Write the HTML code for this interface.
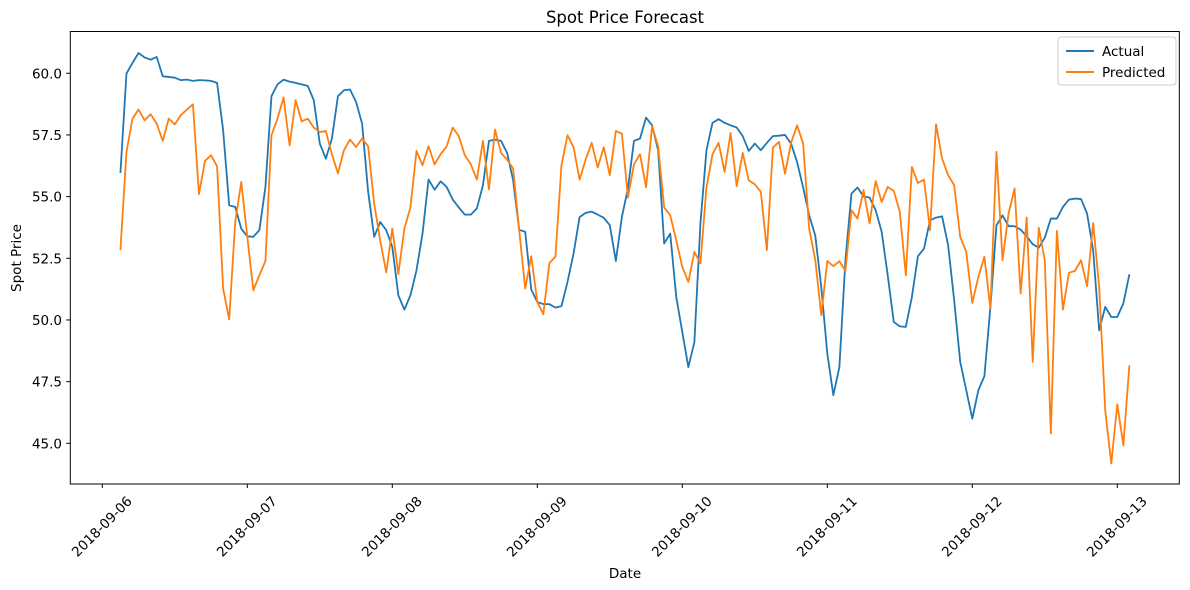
<!DOCTYPE html>
<html><head><meta charset="utf-8"><style>
body{margin:0;background:#fff;}
svg{display:block;font-family:"DejaVu Sans","Liberation Sans",sans-serif;}
</style></head><body>
<svg id="chart" width="1190" height="590" xmlns="http://www.w3.org/2000/svg">
<rect width="1190" height="590" fill="#fff"/>
<text x="625" y="23" font-size="16.5" text-anchor="middle" fill="#000">Spot Price Forecast</text>
<text x="625" y="578" font-size="13.5" text-anchor="middle" fill="#000">Date</text>
<text x="21" y="258" font-size="13.5" text-anchor="middle" fill="#000" transform="rotate(-90 21 258)">Spot Price</text>
<g id="ticks"></g>
<g id="series"></g>
<rect x="70.3" y="31.5" width="1109" height="452.5" fill="none" stroke="#000" stroke-width="1"/>
<g>
<rect x="1058" y="37" width="118" height="48" rx="3" fill="#fff" fill-opacity="0.8" stroke="#ccc"/>
<line x1="1066" y1="51" x2="1094" y2="51" stroke="#1f77b4" stroke-width="2"/>
<text x="1102" y="56" font-size="13.5">Actual</text>
<line x1="1066" y1="72" x2="1094" y2="72" stroke="#ff7f0e" stroke-width="2"/>
<text x="1102" y="77" font-size="13.5">Predicted</text>
</g>
</svg>
<script>
const startHour = 3;
const actual = [55.96,59.99,60.42,60.82,60.64,60.55,60.66,59.88,59.85,59.82,59.72,59.74,59.69,59.72,59.71,59.69,59.61,57.69,54.65,54.58,53.7,53.39,53.37,53.64,55.39,59.07,59.55,59.74,59.66,59.61,59.55,59.49,58.91,57.15,56.54,57.35,59.07,59.31,59.34,58.84,57.96,55.2,53.37,53.97,
53.64,52.96,51.0,50.42,51.0,52.01,53.5,55.69,55.28,55.62,55.39,54.88,54.56,54.27,54.27,54.52,55.46,57.26,57.31,57.26,56.77,55.66,53.66,53.57,51.23,50.73,50.64,50.64,50.5,50.56,51.54,52.69,54.17,54.34,54.39,54.27,54.14,53.84,52.39,54.17,55.33,57.26,57.35,58.2,57.89,56.88,53.1,
53.5,50.93,49.51,48.09,49.1,53.91,56.88,57.99,58.14,57.99,57.89,57.8,57.45,56.85,57.15,56.88,57.18,57.45,57.47,57.5,57.15,56.4,55.37,54.24,53.43,51.34,48.64,46.95,48.09,52.42,55.12,55.37,55.01,54.96,54.45,53.57,51.81,49.92,49.74,49.72,50.93,52.58,52.89,54.04,54.15,
54.2,53.03,50.8,48.3,47.15,46.0,47.15,47.72,50.53,53.84,54.24,53.8,53.8,53.66,53.39,53.07,52.93,53.34,54.11,54.11,54.58,54.88,54.92,54.9,54.31,52.83,49.58,50.53,50.12,50.12,50.67,51.85];
const predicted = [52.83,56.81,58.16,58.53,58.09,58.34,57.96,57.26,58.16,57.93,58.3,58.53,58.74,55.1,56.45,56.68,56.23,51.27,50.02,53.97,55.59,53.37,51.2,51.81,52.39,57.49,58.16,59.02,57.08,58.91,58.05,58.16,57.8,57.62,57.66,56.72,55.94,56.88,57.31,57.01,57.35,57.04,54.72,53.21,51.93,53.7,51.86,
53.7,54.56,56.85,56.27,57.04,56.31,56.72,57.04,57.8,57.45,56.68,56.31,55.69,57.26,55.29,57.72,56.77,56.5,56.14,53.64,51.27,52.58,50.73,50.23,52.31,52.56,56.27,57.49,57.0,55.69,56.5,57.18,56.18,57.0,55.87,57.66,57.55,54.96,56.31,56.72,55.37,57.85,57.04,54.56,
54.24,53.23,52.15,51.54,52.76,52.29,55.37,56.72,57.18,56.0,57.58,55.42,56.77,55.66,55.5,55.19,52.83,56.99,57.22,55.93,57.18,57.89,57.15,53.7,52.45,50.19,52.39,52.18,52.38,51.99,54.45,54.11,55.26,53.91,55.63,54.78,55.39,55.23,54.38,51.81,56.2,55.55,55.69,53.64,57.93,
56.54,55.87,55.46,53.37,52.76,50.69,51.74,52.56,50.46,56.81,52.42,54.31,55.33,51.07,54.15,48.3,53.74,52.42,45.4,53.61,50.42,51.91,51.99,52.42,51.37,53.93,51.34,46.34,44.18,46.58,44.92,48.16];
const xTickLabels = ["2018-09-06","2018-09-07","2018-09-08","2018-09-09","2018-09-10","2018-09-11","2018-09-12","2018-09-13"];
const yTickValues = [45.0,47.5,50.0,52.5,55.0,57.5,60.0];

const NS = "http://www.w3.org/2000/svg";
function xScale(h){ return 102.3 + h * 145.0 / 24; }
function yScale(v){ return 443.3 - (v - 45) * 24.67; }

const ticks = document.getElementById('ticks');
xTickLabels.forEach((lab, i) => {
  const x = xScale(i * 24);
  const t = document.createElementNS(NS, 'line');
  t.setAttribute('x1', x); t.setAttribute('x2', x); t.setAttribute('y1', 484); t.setAttribute('y2', 488);
  t.setAttribute('stroke', '#000');
  
  
  ticks.appendChild(t);
  const tx = document.createElementNS(NS, 'text');
  tx.setAttribute('x', x); tx.setAttribute('y', 527);
  tx.setAttribute('font-size', '13.5');
  tx.setAttribute('text-anchor', 'middle');
  tx.setAttribute('dominant-baseline', 'central');
  tx.setAttribute('transform', 'rotate(-45 ' + x + ' 527)');
  tx.textContent = lab;
  
  
  ticks.appendChild(tx);
});
yTickValues.forEach(v => {
  const y = yScale(v);
  const t = document.createElementNS(NS, 'line');
  t.setAttribute('x1', 66.3); t.setAttribute('x2', 70.3); t.setAttribute('y1', y); t.setAttribute('y2', y);
  t.setAttribute('stroke', '#000');
  
  
  ticks.appendChild(t);
  const tx = document.createElementNS(NS, 'text');
  tx.setAttribute('x', 62); tx.setAttribute('y', y + 5);
  tx.setAttribute('font-size', '13.5');
  tx.setAttribute('text-anchor', 'end');
  tx.textContent = v.toFixed(1);
  
  
  ticks.appendChild(tx);
});

const series = document.getElementById('series');
function drawLine(vals, color, name){
  const pts = vals.map((v, i) => xScale(startHour + i).toFixed(2) + ',' + yScale(v).toFixed(2)).join(' ');
  const pl = document.createElementNS(NS, 'polyline');
  pl.setAttribute('points', pts);
  pl.setAttribute('fill', 'none');
  pl.setAttribute('stroke', color);
  pl.setAttribute('stroke-width', '1.8');
  pl.setAttribute('stroke-linejoin', 'round');
  
  
  series.appendChild(pl);
}
drawLine(actual, '#1f77b4', 'actual-line');
drawLine(predicted, '#ff7f0e', 'predicted-line');
</script>
</body></html>
